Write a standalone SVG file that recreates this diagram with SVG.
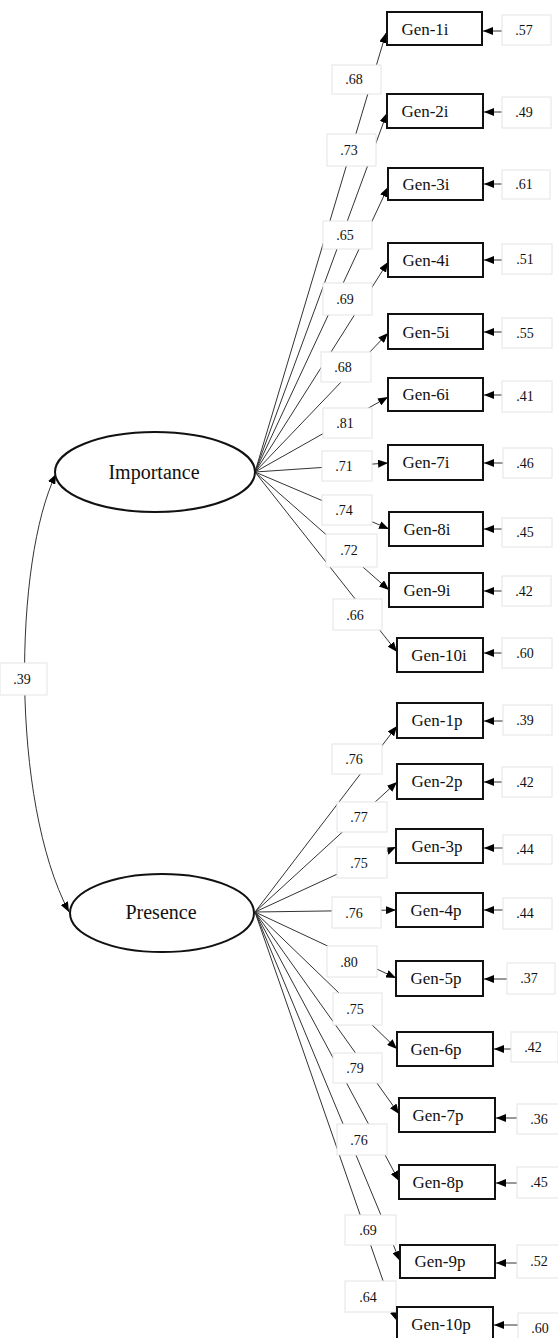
<svg xmlns="http://www.w3.org/2000/svg" width="558" height="1338" viewBox="0 0 558 1338">
<style>
.ln{stroke:#333;stroke-width:1;fill:none}
.ar{marker-end:url(#ah)}
.lab rect{fill:#fff;stroke:#e4e4e4;stroke-width:1}
.lab text{font-family:"Liberation Serif",serif;font-size:14px;fill:#111;text-anchor:middle}
.box rect{fill:#fff;stroke:#111;stroke-width:2}
.box text{font-family:"Liberation Serif",serif;font-size:17px;fill:#111;text-anchor:middle}
.lat ellipse{fill:#fff;stroke:#111;stroke-width:2}
.lat text{font-family:"Liberation Serif",serif;font-size:20px;fill:#111;text-anchor:middle}
</style>
<defs>
<marker id="ah" viewBox="0 0 10 8" refX="10" refY="4" markerWidth="10" markerHeight="8" markerUnits="userSpaceOnUse" orient="auto-start-reverse"><path d="M0,0 L10,4 L0,8 z" fill="#000"/></marker>
</defs>
<rect width="558" height="1338" fill="#fff"/>
<g id="connectors">
<path class="ln ar" d="M56,474 C14,560 10,800 69,912" marker-start="url(#ah)"/>
<line class="ln ar" x1="255" y1="472" x2="386" y2="33"/>
<line class="ln ar" x1="255" y1="472" x2="387" y2="113"/>
<line class="ln ar" x1="255" y1="472" x2="388" y2="187"/>
<line class="ln ar" x1="255" y1="472" x2="388" y2="262"/>
<line class="ln ar" x1="255" y1="472" x2="388" y2="333"/>
<line class="ln ar" x1="255" y1="472" x2="388" y2="397"/>
<line class="ln ar" x1="255" y1="472" x2="388" y2="463"/>
<line class="ln ar" x1="255" y1="472" x2="389" y2="529"/>
<line class="ln ar" x1="255" y1="472" x2="389" y2="590"/>
<line class="ln ar" x1="255" y1="472" x2="397" y2="652"/>
<line class="ln ar" x1="255" y1="912" x2="397" y2="726"/>
<line class="ln ar" x1="255" y1="912" x2="397" y2="782"/>
<line class="ln ar" x1="255" y1="912" x2="396" y2="847"/>
<line class="ln ar" x1="255" y1="912" x2="396" y2="910"/>
<line class="ln ar" x1="255" y1="912" x2="396" y2="978"/>
<line class="ln ar" x1="255" y1="912" x2="397" y2="1049"/>
<line class="ln ar" x1="255" y1="912" x2="399" y2="1114"/>
<line class="ln ar" x1="255" y1="912" x2="399" y2="1181"/>
<line class="ln ar" x1="255" y1="912" x2="400" y2="1261"/>
<line class="ln ar" x1="255" y1="912" x2="397" y2="1321"/>
<line class="ln ar" x1="502" y1="31" x2="483" y2="31"/>
<line class="ln ar" x1="502" y1="112" x2="484" y2="112"/>
<line class="ln ar" x1="502" y1="184" x2="484" y2="184"/>
<line class="ln ar" x1="502" y1="260" x2="484" y2="260"/>
<line class="ln ar" x1="502" y1="332" x2="484" y2="332"/>
<line class="ln ar" x1="502" y1="395" x2="484" y2="395"/>
<line class="ln ar" x1="503" y1="463" x2="484" y2="463"/>
<line class="ln ar" x1="502" y1="529" x2="484" y2="529"/>
<line class="ln ar" x1="502" y1="591" x2="484" y2="591"/>
<line class="ln ar" x1="502" y1="653" x2="484" y2="653"/>
<line class="ln ar" x1="503" y1="721" x2="484" y2="721"/>
<line class="ln ar" x1="502" y1="782" x2="484" y2="782"/>
<line class="ln ar" x1="503" y1="848" x2="484" y2="848"/>
<line class="ln ar" x1="503" y1="910" x2="484" y2="910"/>
<line class="ln ar" x1="507" y1="979" x2="484" y2="979"/>
<line class="ln ar" x1="511" y1="1049" x2="494" y2="1049"/>
<line class="ln ar" x1="517" y1="1118" x2="496" y2="1118"/>
<line class="ln ar" x1="517" y1="1183" x2="496" y2="1183"/>
<line class="ln ar" x1="517" y1="1263" x2="496" y2="1263"/>
<line class="ln ar" x1="518" y1="1325" x2="494" y2="1325"/>
</g>
<g id="labels" class="lab">
<rect x="0" y="663" width="47" height="32"/><text x="22" y="684">.39</text>
<rect x="332" y="65" width="49" height="29"/><text x="354" y="84">.68</text>
<rect x="327" y="134" width="49" height="32"/><text x="349" y="155">.73</text>
<rect x="323" y="221" width="49" height="28"/><text x="345" y="240">.65</text>
<rect x="323" y="283" width="49" height="32"/><text x="345" y="304">.69</text>
<rect x="321" y="352" width="50" height="30"/><text x="343" y="372">.68</text>
<rect x="323" y="408" width="49" height="30"/><text x="345" y="428">.81</text>
<rect x="322" y="451" width="50" height="30"/><text x="344" y="471">.71</text>
<rect x="322" y="495" width="50" height="30"/><text x="344" y="515">.74</text>
<rect x="326" y="534" width="51" height="33"/><text x="349" y="555">.72</text>
<rect x="333" y="599" width="49" height="31"/><text x="355" y="620">.66</text>
<rect x="332" y="744" width="50" height="30"/><text x="354" y="764">.76</text>
<rect x="337" y="802" width="50" height="30"/><text x="359" y="822">.77</text>
<rect x="337" y="847" width="50" height="31"/><text x="359" y="868">.75</text>
<rect x="332" y="897" width="49" height="31"/><text x="354" y="918">.76</text>
<rect x="327" y="946" width="50" height="31"/><text x="349" y="967">.80</text>
<rect x="333" y="993" width="49" height="32"/><text x="355" y="1014">.75</text>
<rect x="333" y="1053" width="49" height="30"/><text x="355" y="1073">.79</text>
<rect x="337" y="1124" width="50" height="31"/><text x="359" y="1145">.76</text>
<rect x="345" y="1215" width="51" height="30"/><text x="368" y="1235">.69</text>
<rect x="345" y="1281" width="51" height="31"/><text x="368" y="1302">.64</text>
<rect x="502" y="15" width="49" height="30"/><text x="524" y="35">.57</text>
<rect x="502" y="97" width="49" height="31"/><text x="524" y="117">.49</text>
<rect x="502" y="170" width="48" height="29"/><text x="524" y="189">.61</text>
<rect x="502" y="244" width="50" height="30"/><text x="525" y="264">.51</text>
<rect x="502" y="318" width="50" height="30"/><text x="525" y="338">.55</text>
<rect x="502" y="381" width="50" height="31"/><text x="525" y="401">.41</text>
<rect x="503" y="448" width="49" height="30"/><text x="525" y="468">.46</text>
<rect x="502" y="518" width="50" height="29"/><text x="525" y="537">.45</text>
<rect x="502" y="576" width="49" height="30"/><text x="524" y="596">.42</text>
<rect x="502" y="638" width="50" height="30"/><text x="525" y="658">.60</text>
<rect x="503" y="705" width="49" height="30"/><text x="525" y="725">.39</text>
<rect x="502" y="767" width="50" height="30"/><text x="525" y="787">.42</text>
<rect x="503" y="835" width="49" height="29"/><text x="525" y="854">.44</text>
<rect x="503" y="898" width="49" height="31"/><text x="525" y="918">.44</text>
<rect x="507" y="963" width="48" height="31"/><text x="529" y="983">.37</text>
<rect x="511" y="1032" width="47" height="30"/><text x="533" y="1052">.42</text>
<rect x="517" y="1104" width="48" height="30"/><text x="539" y="1124">.36</text>
<rect x="517" y="1167" width="48" height="31"/><text x="539" y="1187">.45</text>
<rect x="517" y="1245" width="48" height="33"/><text x="539" y="1266">.52</text>
<rect x="518" y="1313" width="48" height="30"/><text x="540" y="1333">.60</text>
</g>
<g id="importance" class="lat"><ellipse cx="155" cy="472" rx="100" ry="40"/><text x="154" y="479">Importance</text></g>
<g id="presence" class="lat"><ellipse cx="162" cy="913" rx="92" ry="39"/><text x="161" y="919">Presence</text></g>
<g id="gen-1i" class="box"><rect x="387" y="12" width="95" height="33"/><text x="425" y="35">Gen-1i</text></g>
<g id="gen-2i" class="box"><rect x="387" y="94" width="96" height="34"/><text x="425" y="117">Gen-2i</text></g>
<g id="gen-3i" class="box"><rect x="388" y="168" width="95" height="32"/><text x="426" y="190">Gen-3i</text></g>
<g id="gen-4i" class="box"><rect x="388" y="243" width="95" height="34"/><text x="426" y="266">Gen-4i</text></g>
<g id="gen-5i" class="box"><rect x="388" y="314" width="95" height="35"/><text x="426" y="338">Gen-5i</text></g>
<g id="gen-6i" class="box"><rect x="388" y="378" width="95" height="33"/><text x="426" y="400">Gen-6i</text></g>
<g id="gen-7i" class="box"><rect x="388" y="445" width="95" height="35"/><text x="426" y="468">Gen-7i</text></g>
<g id="gen-8i" class="box"><rect x="389" y="512" width="94" height="34"/><text x="427" y="535">Gen-8i</text></g>
<g id="gen-9i" class="box"><rect x="389" y="573" width="94" height="34"/><text x="427" y="596">Gen-9i</text></g>
<g id="gen-10i" class="box"><rect x="397" y="638" width="86" height="34"/><text x="439" y="661">Gen-10i</text></g>
<g id="gen-1p" class="box"><rect x="397" y="703" width="86" height="35"/><text x="437" y="726">Gen-1p</text></g>
<g id="gen-2p" class="box"><rect x="397" y="764" width="86" height="35"/><text x="437" y="787">Gen-2p</text></g>
<g id="gen-3p" class="box"><rect x="396" y="829" width="87" height="34"/><text x="437" y="852">Gen-3p</text></g>
<g id="gen-4p" class="box"><rect x="396" y="893" width="87" height="34"/><text x="436" y="916">Gen-4p</text></g>
<g id="gen-5p" class="box"><rect x="396" y="961" width="87" height="35"/><text x="436" y="984">Gen-5p</text></g>
<g id="gen-6p" class="box"><rect x="397" y="1032" width="96" height="34"/><text x="436" y="1055">Gen-6p</text></g>
<g id="gen-7p" class="box"><rect x="399" y="1098" width="96" height="34"/><text x="438" y="1121">Gen-7p</text></g>
<g id="gen-8p" class="box"><rect x="399" y="1165" width="96" height="34"/><text x="438" y="1188">Gen-8p</text></g>
<g id="gen-9p" class="box"><rect x="400" y="1245" width="95" height="33"/><text x="440" y="1267">Gen-9p</text></g>
<g id="gen-10p" class="box"><rect x="397" y="1307" width="96" height="34"/><text x="441" y="1330">Gen-10p</text></g>
</svg>
